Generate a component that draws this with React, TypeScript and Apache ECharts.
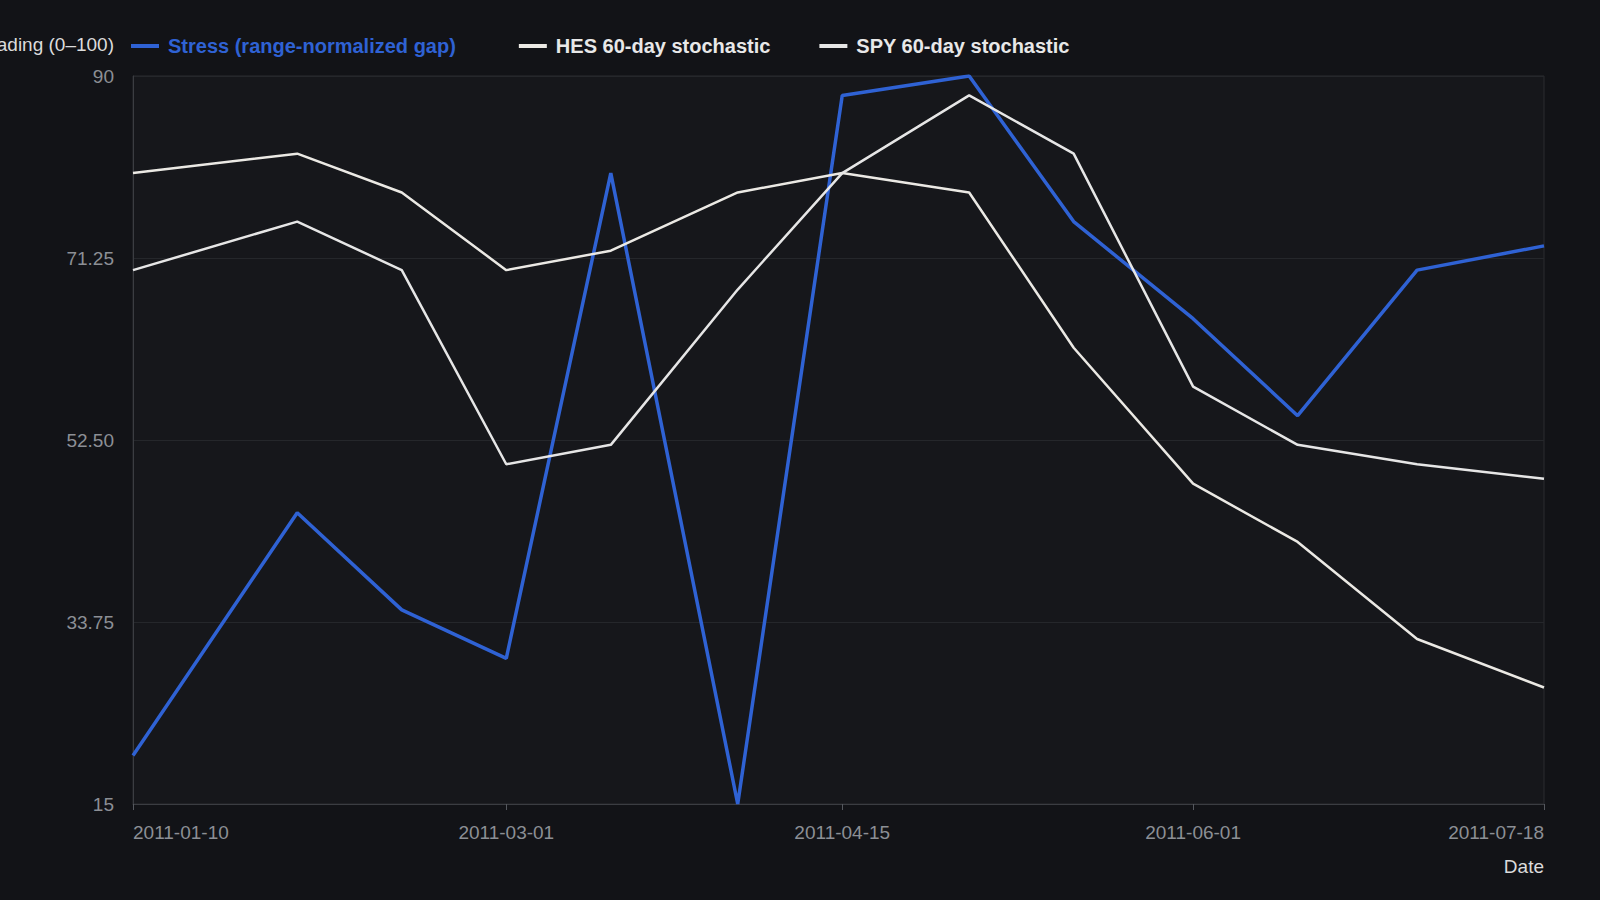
import React, { useEffect, useRef } from 'react';
import * as echarts from 'echarts';

// semi-monthly observation dates
const dates = [
  '2011-01-10', '2011-02-01', '2011-02-15', '2011-03-01', '2011-03-15', '2011-04-01', '2011-04-15',
  '2011-05-02', '2011-05-16', '2011-06-01', '2011-06-15', '2011-07-01', '2011-07-18',
];
const stress = [20, 45, 35, 30, 80, 15, 88, 90, 75, 65, 55, 70, 72.5];
const hes = [80, 82, 78, 70, 72, 78, 80, 78, 62, 48, 42, 32, 27];
const spy = [70, 75, 70, 50, 52, 68, 80, 88, 82, 58, 52, 50, 48.5];

const dateTicks = ['2011-01-10', '2011-03-01', '2011-04-15', '2011-06-01', '2011-07-18'];
const valueTicks = [15, 33.75, 52.5, 71.25, 90];

const FONT = "'Liberation Sans', Arial, sans-serif";
const BLUE = '#2f62d4';
const WHITE_A = '#ebe9e4';
const WHITE_B = '#e6e6e6';

const toTs = (s: string) => {
  const [y, m, d] = s.split('-').map(Number);
  return Date.UTC(y, m - 1, d);
};
const pad = (n: number) => (n < 10 ? '0' + n : String(n));
const fmtDate = (v: number) => {
  const d = new Date(v);
  return `${d.getUTCFullYear()}-${pad(d.getUTCMonth() + 1)}-${pad(d.getUTCDate())}`;
};

const App: React.FC = () => {
  const chartRef = useRef<HTMLDivElement>(null);

  useEffect(() => {
    if (!chartRef.current) return;
    const chart = echarts.init(chartRef.current, null, { renderer: 'svg' });

    const pairs = (vals: number[]) => dates.map((d, i) => [toTs(d), vals[i]]);

    const option: echarts.EChartsOption = {
      animation: false,
      backgroundColor: '#121317',
      textStyle: { fontFamily: FONT },
      legend: {
        left: 126,
        top: 29,
        icon: 'rect',
        itemWidth: 28,
        itemHeight: 4,
        itemGap: 49,
        textStyle: { fontSize: 20, fontWeight: 'bold', fontFamily: FONT, padding: [0, 0, 0, 4], lineHeight: 24 },
        data: [
          { name: 'Stress (range-normalized gap)', textStyle: { color: BLUE, padding: [0, 14, 0, 4] } },
          { name: 'HES 60-day stochastic', textStyle: { color: '#e8e8e8' } },
          { name: 'SPY 60-day stochastic', textStyle: { color: '#e8e8e8' } },
        ],
      } as any,
      grid: {
        left: 133,
        right: 56,
        top: 76,
        bottom: 96,
        containLabel: false,
        outerBoundsMode: 'none',
        show: true,
        backgroundColor: '#16171b',
        borderColor: '#2b2d31',
        borderWidth: 1,
      } as any,
      xAxis: {
        type: 'value',
        min: toTs(dates[0]),
        max: toTs(dates[dates.length - 1]),
        name: 'Date',
        nameLocation: 'end',
        nameGap: 0,
        nameTextStyle: {
          color: '#dcdcdc',
          fontSize: 19,
          fontFamily: FONT,
          align: 'right',
          verticalAlign: 'top',
          padding: [53, 0, 0, 0],
        },
        axisLine: { show: true, lineStyle: { color: '#3b3d42', width: 1 } },
        axisTick: {
          show: true,
          length: 6,
          lineStyle: { color: '#55585e' },
          customValues: dateTicks.map(toTs),
        },
        axisLabel: {
          color: '#8c8f95',
          fontSize: 19,
          fontFamily: FONT,
          margin: 19,
          customValues: dateTicks.map(toTs),
          alignMinLabel: 'left',
          alignMaxLabel: 'right',
          formatter: (v: number) => fmtDate(v),
        },
        splitLine: { show: false },
      } as any,
      yAxis: {
        type: 'value',
        min: 15,
        max: 90,
        name: 'Reading (0–100)',
        nameLocation: 'end',
        nameGap: 32,
        nameTextStyle: {
          color: '#dcdcdc',
          fontSize: 19,
          fontFamily: FONT,
          align: 'right',
          verticalAlign: 'middle',
          padding: [0, 19, 0, 0],
        },
        axisLine: { show: true, lineStyle: { color: '#3b3d42', width: 1 } },
        axisTick: { show: false, customValues: valueTicks },
        axisLabel: {
          color: '#8c8f95',
          fontSize: 19,
          fontFamily: FONT,
          margin: 19,
          customValues: valueTicks,
          formatter: (v: number) => (Number.isInteger(v) ? String(v) : v.toFixed(2)),
        },
        splitLine: { show: true, lineStyle: { color: '#25272b', width: 1 } },
      } as any,
      series: [
        {
          name: 'Stress (range-normalized gap)',
          type: 'line',
          data: pairs(stress),
          showSymbol: false,
          color: BLUE,
          lineStyle: { color: BLUE, width: 3.5 },
        },
        {
          name: 'HES 60-day stochastic',
          type: 'line',
          data: pairs(hes),
          showSymbol: false,
          color: WHITE_A,
          lineStyle: { color: WHITE_A, width: 2.5 },
        },
        {
          name: 'SPY 60-day stochastic',
          type: 'line',
          data: pairs(spy),
          showSymbol: false,
          color: WHITE_B,
          lineStyle: { color: WHITE_B, width: 2.5 },
        },
      ],
    };

    chart.setOption(option);

    const handleResize = () => chart.resize();
    window.addEventListener('resize', handleResize);
    return () => {
      window.removeEventListener('resize', handleResize);
      chart.dispose();
    };
  }, []);

  return (
    <div
      ref={chartRef}
      style={{ position: 'fixed', left: 0, top: 0, width: 1600, height: 900 }}
    />
  );
};

export default App;
